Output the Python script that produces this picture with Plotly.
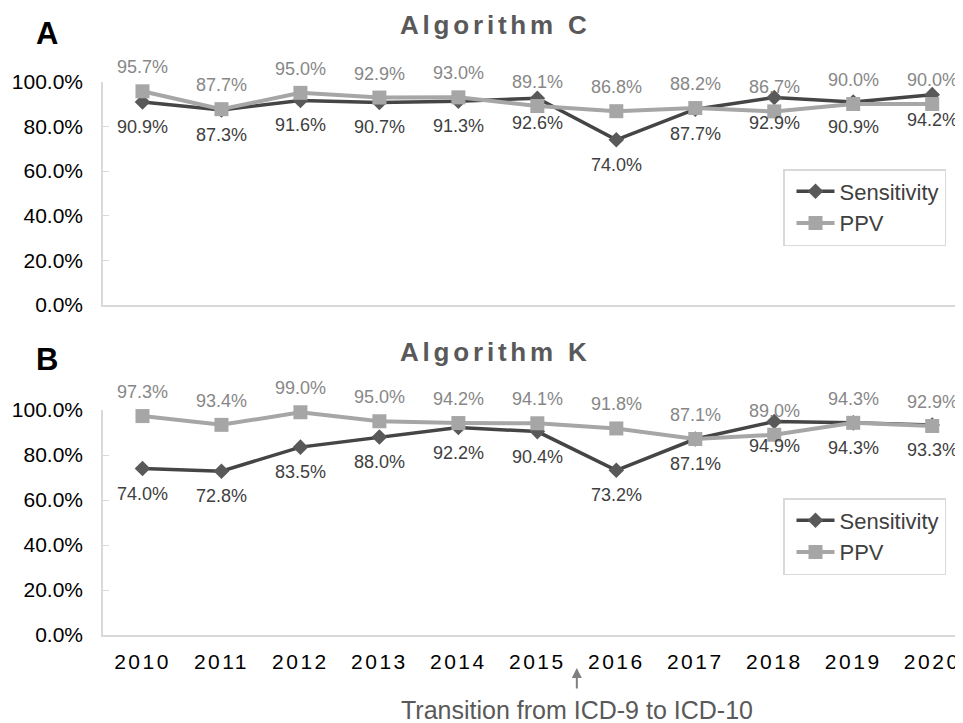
import plotly.graph_objects as go

years = ["2010", "2011", "2012", "2013", "2014", "2015", "2016", "2017", "2018", "2019", "2020"]
c_sens = [90.9, 87.3, 91.6, 90.7, 91.3, 92.6, 74.0, 87.7, 92.9, 90.9, 94.2]
c_ppv = [95.7, 87.7, 95.0, 92.9, 93.0, 89.1, 86.8, 88.2, 86.7, 90.0, 90.0]
k_sens = [74.0, 72.8, 83.5, 88.0, 92.2, 90.4, 73.2, 87.1, 94.9, 94.3, 93.3]
k_ppv = [97.3, 93.4, 99.0, 95.0, 94.2, 94.1, 91.8, 87.1, 89.0, 94.3, 92.9]
y_ticks = [0, 20, 40, 60, 80, 100]
y_tick_labels = ["0.0%", "20.0%", "40.0%", "60.0%", "80.0%", "100.0%"]

FONT = "Arial, Liberation Sans, sans-serif"
SENS_LINE = "#454545"
SENS_COLOR = "#595959"
PPV_COLOR = "#a6a6a6"
SENS_LABEL = "#404040"
PPV_LABEL = "#878787"
AXIS_COLOR = "#d9d9d9"

W, H = 963.0, 723.0
OFF = 8.0          # page body margin
ML = 103 - OFF     # left margin in figure px
MR = W - (963 - OFF)
PW = W - ML - MR


def px(xr):
    """reference pixel x -> paper fraction"""
    return (xr - OFF - ML) / PW


def py(yr):
    """reference pixel y -> paper fraction"""
    return 1 - (yr - OFF) / H


fig = go.Figure()


def add_panel(sens, ppv, xa, ya, legend):
    fig.add_trace(go.Scatter(
        x=years, y=sens, name="Sensitivity", mode="lines+markers",
        line=dict(color=SENS_LINE, width=3.5),
        marker=dict(symbol="diamond", size=12, color=SENS_COLOR),
        xaxis=xa, yaxis=ya, legend=legend, cliponaxis=False,
    ))
    fig.add_trace(go.Scatter(
        x=years, y=ppv, name="PPV", mode="lines+markers",
        line=dict(color=PPV_COLOR, width=4),
        marker=dict(symbol="square", size=14, color=PPV_COLOR),
        xaxis=xa, yaxis=ya, legend=legend, cliponaxis=False,
    ))
    for i, (s, p) in enumerate(zip(sens, ppv)):
        fig.add_annotation(x=i, y=p, xref=xa, yref=ya, text=f"{p:.1f}%",
                           showarrow=False, yshift=24, xanchor="center", yanchor="middle",
                           font=dict(family=FONT, size=18, color=PPV_LABEL))
        fig.add_annotation(x=i, y=s, xref=xa, yref=ya, text=f"{s:.1f}%",
                           showarrow=False, yshift=-25, xanchor="center", yanchor="middle",
                           font=dict(family=FONT, size=18, color=SENS_LABEL))


add_panel(c_sens, c_ppv, "x", "y", "legend")
add_panel(k_sens, k_ppv, "x2", "y2", "legend2")

axis_common = dict(
    showline=True, linecolor=AXIS_COLOR, linewidth=1.5,
    showgrid=False, zeroline=False, automargin=False,
)
xtick_text = [f'<span style="letter-spacing:2.5px">{y}</span>' for y in years]

yaxis_common = dict(
    range=[0, 100], tickvals=y_ticks, ticktext=y_tick_labels, ticks="inside", ticklen=6,
    tickcolor=AXIS_COLOR, ticklabelstandoff=14,
    tickfont=dict(family=FONT, size=21, color="#000000"),
)

legend_common = dict(
    x=px(946), xanchor="right", yanchor="top",
    bordercolor=AXIS_COLOR, borderwidth=1.5, bgcolor="white",
    font=dict(family=FONT, size=22, color="#404040"), tracegroupgap=0,
    indentation=7, itemwidth=38,
)

fig.update_layout(
    width=W, height=H,
    margin=dict(l=ML, r=MR, t=0, b=0, autoexpand=False),
    paper_bgcolor="white", plot_bgcolor="white",
    font=dict(family=FONT, color="#000000"),
    xaxis=dict(**axis_common, type="category", range=[-0.5, 10.39], domain=[0, 1],
               anchor="y", showticklabels=False, ticks=""),
    yaxis=dict(**axis_common, **yaxis_common, domain=[py(305), py(81.7)], anchor="x"),
    xaxis2=dict(**axis_common, type="category", range=[-0.5, 10.39], domain=[0, 1],
                anchor="y2", ticks="", ticklabelstandoff=7,
                tickmode="array", tickvals=years, ticktext=xtick_text,
                tickfont=dict(family=FONT, size=21, color="#000000")),
    yaxis2=dict(**axis_common, **yaxis_common, domain=[py(635), py(410)], anchor="x2"),
    legend=dict(**legend_common, y=py(169)),
    legend2=dict(**legend_common, y=py(498)),
    showlegend=True,
)

title_style = '<b><span style="letter-spacing:3.8px">{}</span></b>'
center = dict(xanchor="center", yanchor="middle", showarrow=False)
fig.add_annotation(xref="paper", yref="paper", x=px(495), y=py(25),
                   text=title_style.format("Algorithm C"), **center,
                   font=dict(family=FONT, size=26, color="#595959"))
fig.add_annotation(xref="paper", yref="paper", x=px(495), y=py(352),
                   text=title_style.format("Algorithm K"), **center,
                   font=dict(family=FONT, size=26, color="#595959"))
fig.add_annotation(xref="paper", yref="paper", x=px(47), y=py(34),
                   text="<b>A</b>", **center,
                   font=dict(family=FONT, size=31, color="#000000"))
fig.add_annotation(xref="paper", yref="paper", x=px(47), y=py(359),
                   text="<b>B</b>", **center,
                   font=dict(family=FONT, size=31, color="#000000"))

# Transition arrow between 2015 and 2016
fig.add_annotation(xref="x2", yref="paper", x=5.5, y=py(668), ax=0, ay=22,
                   text="", showarrow=True, arrowhead=2, arrowsize=1, arrowwidth=2,
                   arrowcolor="#7f7f7f")
fig.add_annotation(xref="x2", yref="paper", x=5.5, y=py(710),
                   text="Transition from ICD-9 to ICD-10", **center,
                   font=dict(family=FONT, size=25, color="#595959"))

fig.write_html("out.html")
